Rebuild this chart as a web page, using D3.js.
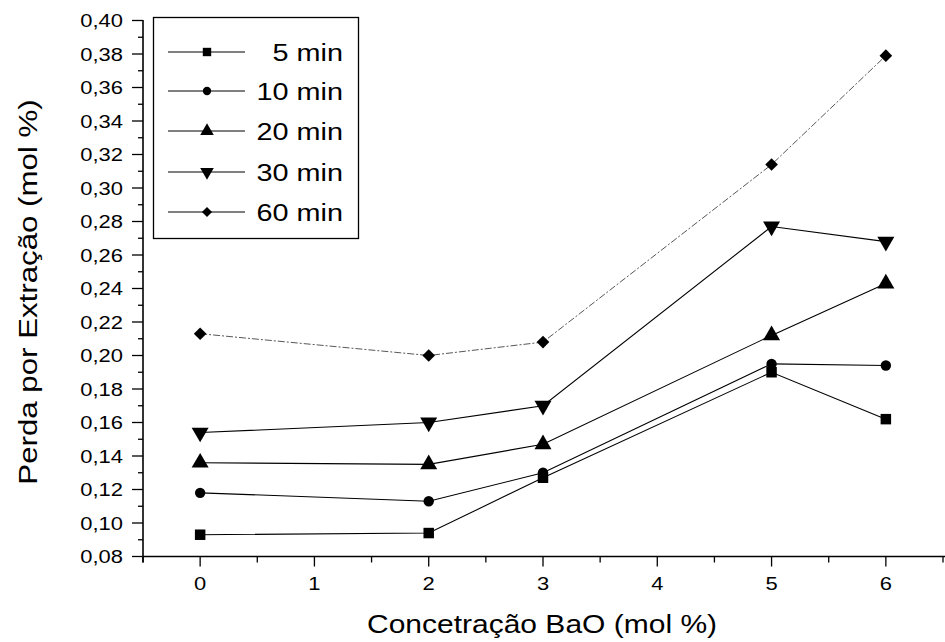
<!DOCTYPE html>
<html>
<head>
<meta charset="utf-8">
<script src="https://cdn.jsdelivr.net/npm/d3@7"></script>
<style>
  html, body { margin: 0; padding: 0; background: #fff; }
  svg { display: block; }
  text { font-family: Arial, "Liberation Sans", sans-serif; fill: #000; }
</style>
</head>
<body>
<svg id="chart" width="945" height="642"></svg>
<script>
// BaO concentration (mol %) where measurements were taken
const concentrations = [0, 2, 3, 5, 6];
const xTickValues = [0, 1, 2, 3, 4, 5, 6];
const yTickValues = [0.08, 0.10, 0.12, 0.14, 0.16, 0.18, 0.20, 0.22, 0.24, 0.26, 0.28, 0.30, 0.32, 0.34, 0.36, 0.38, 0.40];

// Extraction loss (mol %) for each extraction time
const loss5min  = [0.093, 0.094, 0.127, 0.190, 0.162];
const loss10min = [0.118, 0.113, 0.130, 0.195, 0.194];
const loss20min = [0.136, 0.135, 0.147, 0.212, 0.243];
const loss30min = [0.154, 0.160, 0.170, 0.277, 0.268];
const loss60min = [0.213, 0.200, 0.208, 0.314, 0.379];

const seriesNames = ["5 min", "10 min", "20 min", "30 min", "60 min"];
const seriesValues = [loss5min, loss10min, loss20min, loss30min, loss60min];
const seriesSymbols = ["square", "circle", "triangleUp", "triangleDown", "diamond"];

const svg = d3.select("#chart");

const x = d3.scaleLinear().domain([-0.5, 6.5]).range([143, 943]);
const y = d3.scaleLinear().domain([0.08, 0.40]).range([556.5, 20.5]);

const fmt = v => d3.format(".2f")(v).replace(".", ",");

// wide-set text: horizontally stretched glyphs
function wideText(parent, px, py, str, size, sx, anchor, rot) {
  return parent.append("text")
    .attr("transform", `translate(${px},${py})` + (rot ? ` rotate(${rot})` : "") + ` scale(${sx},1)`)
    .attr("text-anchor", anchor)
    .attr("font-size", size)
    .text(str);
}

// marker shapes
function markerPath(sym, k) {
  switch (sym) {
    case "square": return d3.symbol(d3.symbolSquare, 110 * k * k)();
    case "circle": return d3.symbol(d3.symbolCircle, 85 * k * k)();
    case "triangleUp":
    case "triangleDown": return d3.symbol(d3.symbolTriangle, 125 * k * k)();
    case "diamond": return d3.symbol(d3.symbolSquare, 80 * k * k)();
  }
}
function markerTransform(sym, px, py) {
  if (sym === "triangleDown") return `translate(${px},${py}) rotate(180)`;
  if (sym === "diamond") return `translate(${px},${py}) rotate(45)`;
  return `translate(${px},${py})`;
}

// ---- axes ----
const yAxisG = svg.append("g").attr("transform", `translate(${x.range()[0]},0)`);
yAxisG.append("line").attr("x1", 0).attr("x2", 0)
  .attr("y1", y(0.40) - 0.5).attr("y2", y(0.08) + 6)
  .attr("stroke", "#000").attr("stroke-width", 1.6);
const yMinor = d3.range(0.09, 0.40, 0.02);
yAxisG.selectAll(".ymin").data(yMinor).join("line")
  .attr("x1", -5).attr("x2", 0)
  .attr("y1", d => y(d)).attr("y2", d => y(d))
  .attr("stroke", "#000").attr("stroke-width", 1.3);
yAxisG.selectAll(".ymaj").data(yTickValues).join("line")
  .attr("x1", -11).attr("x2", 0)
  .attr("y1", d => y(d)).attr("y2", d => y(d))
  .attr("stroke", "#000").attr("stroke-width", 1.3);
yTickValues.forEach(v => wideText(yAxisG, -20, y(v) + 6.5, fmt(v), 18, 1.22, "end"));

const xAxisG = svg.append("g").attr("transform", `translate(0,${y(0.08)})`);
xAxisG.append("line").attr("x1", x.range()[0]).attr("x2", x.range()[1] + 2)
  .attr("y1", 0).attr("y2", 0)
  .attr("stroke", "#000").attr("stroke-width", 1.6);
const xMinor = d3.range(-0.5, 6.6, 1);
xAxisG.selectAll(".xmin").data(xMinor).join("line")
  .attr("x1", d => x(d)).attr("x2", d => x(d))
  .attr("y1", 0).attr("y2", 6)
  .attr("stroke", "#000").attr("stroke-width", 1.3);
xAxisG.selectAll(".xmaj").data(xTickValues).join("line")
  .attr("x1", d => x(d)).attr("x2", d => x(d))
  .attr("y1", 0).attr("y2", 10)
  .attr("stroke", "#000").attr("stroke-width", 1.3);
xTickValues.forEach(v => wideText(xAxisG, x(v), 33, String(v), 18, 1.22, "middle"));

// axis titles
wideText(svg, 542, 633, "Concetração BaO (mol %)", 25, 1.2, "middle");
wideText(svg, 37, 292, "Perda por Extração (mol %)", 25, 1.25, "middle", -90);

// ---- series ----
const line = d3.line().x((d, i) => x(concentrations[i])).y(d => y(d));
seriesValues.forEach((vals, s) => {
  const isLast = s === seriesValues.length - 1;
  svg.append("path")
    .attr("d", line(vals))
    .attr("fill", "none")
    .attr("stroke", isLast ? "#444" : "#000")
    .attr("stroke-width", isLast ? 0.9 : 1.1)
    .attr("stroke-dasharray", isLast ? "7,2,2,2" : null);
  svg.append("g").selectAll("path").data(vals).join("path")
    .attr("d", markerPath(seriesSymbols[s], 1))
    .attr("transform", (d, i) => markerTransform(seriesSymbols[s], x(concentrations[i]), y(d)))
    .attr("fill", "#000");
});

// ---- legend ----
const legend = svg.append("g");
legend.append("rect")
  .attr("x", 153.5).attr("y", 17.5).attr("width", 205).attr("height", 221)
  .attr("fill", "#fff").attr("stroke", "#000").attr("stroke-width", 1.3);
const rowY = [52, 91, 131, 172, 212];
seriesNames.forEach((name, s) => {
  const g = legend.append("g");
  g.append("line").attr("x1", 168).attr("x2", 245)
    .attr("y1", rowY[s]).attr("y2", rowY[s])
    .attr("stroke", "#000").attr("stroke-width", 1);
  g.append("path")
    .attr("d", markerPath(seriesSymbols[s], 0.8))
    .attr("transform", markerTransform(seriesSymbols[s], 207, rowY[s]))
    .attr("fill", "#000");
  wideText(g, 343, rowY[s] + 8.5, name, 24, 1.2, "end");
});
</script>
</body>
</html>
